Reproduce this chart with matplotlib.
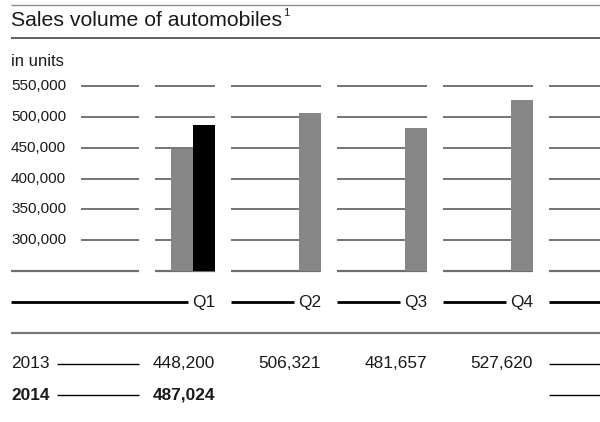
import matplotlib
matplotlib.use("Agg")
import matplotlib.pyplot as plt

plt.rcParams['font.family'] = ['Liberation Sans', 'DejaVu Sans']

# quarterly sales volume, units
quarters = ["Q1", "Q2", "Q3", "Q4"]
sales_2013 = [448200, 506321, 481657, 527620]
sales_2014 = [487024, None, None, None]
y_ticks = [300000, 350000, 400000, 450000, 500000, 550000]
y_min, y_max = 250000, 550000

W, H = 600, 422
fig = plt.figure(figsize=(W / 100, H / 100), dpi=100)
renderer = fig.canvas.get_renderer()

# layout axes in pixel units for the text and rules
lay = fig.add_axes([0, 0, 1, 1])
lay.set_xlim(0, W)
lay.set_ylim(H, 0)
lay.axis("off")

# chart axes: x in pixels, y in units
top_px, base_px = 86, 271
ax = fig.add_axes([0, 1 - base_px / H, 1, (base_px - top_px) / H])
ax.set_xlim(0, W)
ax.set_ylim(y_min, y_max)
ax.axis("off")

grid_col = "#505050"
text_col = "#1a1a1a"
fs_tick = 11
fs_table = 12.4


def text_width(t):
    # width of a text artist in pixels
    return t.get_window_extent(renderer=renderer).width


# title block
lay.hlines(5, 11, W, color="#8c8c8c", lw=1)
title = lay.text(11, 20, "Sales volume of automobiles", fontsize=15.3,
                 color=text_col, ha="left", va="center")
lay.text(11 + text_width(title) + 1, 13, "1", fontsize=8, color=text_col,
         ha="left", va="center")
lay.hlines(38, 11, W, color="#555555", lw=1.3)
lay.text(11, 62, "in units", fontsize=12, color=text_col, ha="left", va="center")

# column geometry (pixels): right edges of each quarter's bar group
bar_w = 22
gap = 16
label_right = 139
col_right = [215, 321, 427, 533]

# gridline segments
segments = [(81, label_right)]
prev = label_right
for r in col_right:
    segments.append((prev + gap, r))
    prev = r
segments.append((prev + gap, W))

for (x0, x1) in segments:
    ax.hlines(y_ticks, x0, x1, color=grid_col, lw=1.1, clip_on=False, zorder=1)
    base_x0 = 11 if x0 == 81 else x0
    ax.hlines(y_min, base_x0, x1, color="#6e6e6e", lw=1.6, clip_on=False, zorder=1)

for t in y_ticks:
    ax.text(11, t, f"{t:,}", fontsize=fs_tick, color=text_col, ha="left", va="center")

# bars
for i, r in enumerate(col_right):
    v13, v14 = sales_2013[i], sales_2014[i]
    if v14 is not None:
        ax.bar(r - bar_w, v14, width=bar_w, align="edge", color="black", zorder=2)
        ax.bar(r - 2 * bar_w, v13, width=bar_w, align="edge", color="#878787", zorder=2)
    else:
        ax.bar(r - bar_w, v13, width=bar_w, align="edge", color="#878787", zorder=2)

# quarter label row
q_y = 302
starts = [11] + [r + gap for r in col_right[:-1]]
for q, x0, r in zip(quarters, starts, col_right):
    lbl = lay.text(r, q_y, q, fontsize=fs_table, color=text_col, ha="right",
                   va="center")
    lay.hlines(q_y, x0, r - text_width(lbl) - 4, color="black", lw=2)
lay.hlines(q_y, col_right[-1] + gap, W, color="black", lw=2)

lay.hlines(333, 11, W, color="#777777", lw=1.6)

# value table
for row_y, year, vals, weight in [(364, "2013", sales_2013, "normal"),
                                  (395, "2014", sales_2014, "bold")]:
    lay.text(11, row_y, year, fontsize=fs_table, color=text_col, ha="left",
             va="center", fontweight=weight)
    lay.hlines(row_y, 57, 139, color="black", lw=1)
    for v, xr in zip(vals, col_right):
        if v is not None:
            lay.text(xr, row_y, f"{v:,}", fontsize=fs_table, color=text_col,
                     ha="right", va="center", fontweight=weight)
    lay.hlines(row_y, col_right[-1] + gap, W, color="black", lw=1)

fig.savefig("out.png", dpi=100)
